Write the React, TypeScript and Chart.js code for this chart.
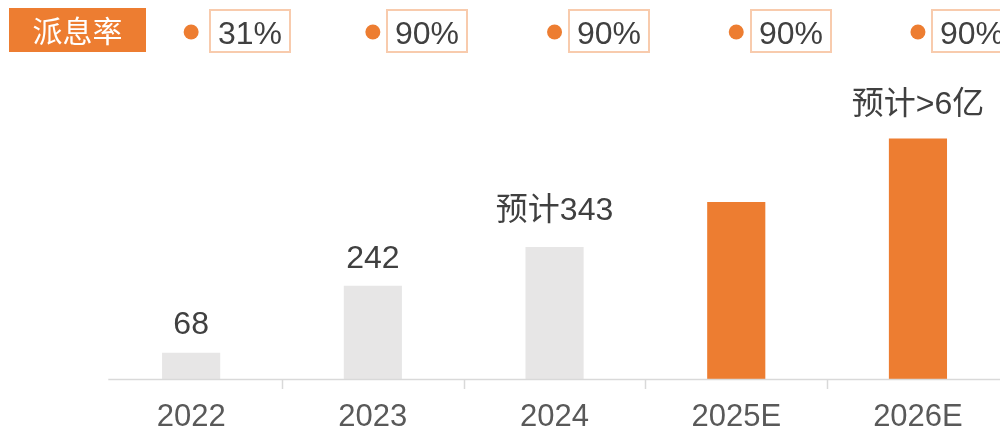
import React, { useEffect, useRef } from "react";
import { Chart, registerables } from "chart.js";

Chart.register(...registerables);

// ---- data ----
const categories = ["2022", "2023", "2024", "2025E", "2026E"];
const values = [68, 242, 343, 460, 625];
const valueLabels = ["68", "242", "预计343", "", "预计>6亿"];
const payoutTitle = "派息率";
const payoutRatios = ["31%", "90%", "90%", "90%", "90%"];

// ---- styles ----
const FONT = '"Liberation Sans", "Noto Sans CJK SC", Arial, sans-serif';
const CJK_FONT = '"Noto Sans CJK SC", "Liberation Sans", sans-serif';
const ORANGE = "#ED7D31";
const GRAY_BAR = "#E7E6E6";
const barColors = [GRAY_BAR, GRAY_BAR, GRAY_BAR, ORANGE, ORANGE];
const labelGaps = [19, 18, 27, 0, 24];
const boxOffsets = [18.5, 14.5, 14.5, 14.5, 14.5];

export default function App() {
  const ref = useRef<HTMLCanvasElement>(null);

  useEffect(() => {
    const canvas = ref.current;
    if (!canvas) return;

    const overlay = {
      id: "overlay",
      afterDatasetsDraw(chart: any) {
        const ctx = chart.ctx as CanvasRenderingContext2D;
        const xs = chart.scales.x;
        const area = chart.chartArea;
        ctx.save();
        // axis line
        ctx.strokeStyle = "#D9D9D9";
        ctx.lineWidth = 1.5;
        ctx.beginPath();
        ctx.moveTo(area.left + 8, area.bottom + 0.5);
        ctx.lineTo(chart.width, area.bottom + 0.5);
        ctx.stroke();
        // tick marks between categories
        for (let i = 1; i < categories.length; i++) {
          const px = Math.round((xs.getPixelForValue(i - 1) + xs.getPixelForValue(i)) / 2) + 0.5;
          ctx.beginPath();
          ctx.moveTo(px, area.bottom);
          ctx.lineTo(px, area.bottom + 10);
          ctx.stroke();
        }
        // value labels
        const meta = chart.getDatasetMeta(0);
        ctx.fillStyle = "#404040";
        ctx.font = `32px ${FONT}`;
        ctx.textAlign = "center";
        ctx.textBaseline = "alphabetic";
        meta.data.forEach((bar: any, i: number) => {
          const t = valueLabels[i];
          if (!t) return;
          ctx.fillText(t, bar.x, bar.y - labelGaps[i]);
        });
        ctx.restore();
      },
      afterDraw(chart: any) {
        const ctx = chart.ctx as CanvasRenderingContext2D;
        const xs = chart.scales.x;
        ctx.save();
        // title box
        ctx.fillStyle = ORANGE;
        ctx.fillRect(9, 8, 137, 44);
        ctx.fillStyle = "#FFFFFF";
        ctx.font = `30px ${CJK_FONT}`;
        ctx.textAlign = "center";
        ctx.textBaseline = "middle";
        ctx.fillText(payoutTitle, 77.5, 31);
        // ratios
        payoutRatios.forEach((r, i) => {
          const cx = xs.getPixelForValue(i);
          ctx.fillStyle = ORANGE;
          ctx.beginPath();
          ctx.arc(cx, 32, 7.5, 0, Math.PI * 2);
          ctx.fill();
          const bx = Math.round(cx + boxOffsets[i]);
          ctx.strokeStyle = "#F8CBAD";
          ctx.lineWidth = 2;
          ctx.strokeRect(bx, 10, 80, 42);
          ctx.fillStyle = "#404040";
          ctx.font = `32px ${FONT}`;
          ctx.textAlign = "center";
          ctx.textBaseline = "alphabetic";
          ctx.fillText(r, bx + 40, 43.5);
        });
        ctx.restore();
      },
    };

    const chart = new Chart(canvas, {
      type: "bar",
      data: {
        labels: categories,
        datasets: [
          {
            data: values,
            backgroundColor: barColors,
            borderWidth: 0,
            categoryPercentage: 1,
            barPercentage: 0.32,
          },
        ],
      },
      options: {
        responsive: false,
        animation: false,
        layout: { padding: { top: 71, left: 100.3, right: 1.2, bottom: 0 } },
        plugins: {
          legend: { display: false },
          tooltip: { enabled: false },
        },
        scales: {
          x: {
            grid: { display: false, drawTicks: false },
            border: { display: false },
            ticks: {
              color: "#595959",
              font: { size: 31, family: FONT },
              padding: 20,
              maxRotation: 0,
              autoSkip: false,
            },
            afterFit: (scale: any) => {
              scale.height = 51;
            },
          },
          y: {
            display: false,
            min: 0,
            max: 800,
          },
        },
      },
      plugins: [overlay],
    });

    return () => chart.destroy();
  }, []);

  return (
    <div
      style={{
        position: "absolute",
        left: 0,
        top: 0,
        width: 1000,
        height: 430,
        overflow: "hidden",
        background: "#FFFFFF",
      }}
    >
      <canvas ref={ref} width={1010} height={430} style={{ display: "block" }} />
    </div>
  );
}
